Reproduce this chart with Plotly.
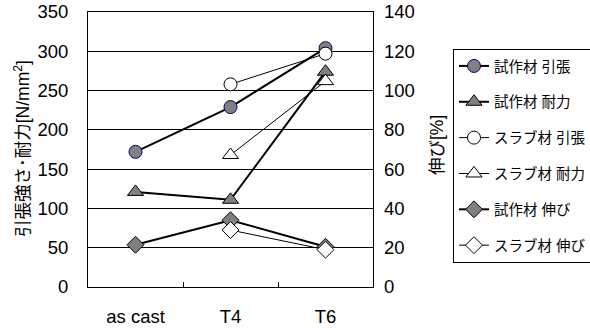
import plotly.graph_objects as go

categories = ["as cast", "T4", "T6"]
proto_tensile = [172, 229, 304]
proto_proof = [121, 111, 274]
slab_cats = ["T4", "T6"]
slab_tensile = [258, 297]
slab_proof = [168, 262]
proto_elong = [21.5, 34, 20.5]
slab_elong = [29, 19]

FONT = "Liberation Sans, Arial, Noto Sans CJK JP, sans-serif"
GRAY = "#808080"

fig = go.Figure()

def add(name, x, y, symbol, fill, outline, lw, size, axis="y"):
    fig.add_trace(go.Scatter(
        x=x, y=y, name=name, mode="lines+markers", yaxis=axis,
        line=dict(color="black", width=lw),
        marker=dict(symbol=symbol, color=fill, size=size,
                    line=dict(color=outline, width=1)),
        legendgroup=name, cliponaxis=False,
    ))

add("試作材 引張", categories, proto_tensile, "circle", GRAY, "#000080", 2, 13)
add("試作材 耐力", categories, proto_proof, "triangle-up", GRAY, "black", 2, 14)
add("スラブ材 引張", slab_cats, slab_tensile, "circle", "white", "black", 1, 13)
add("スラブ材 耐力", slab_cats, slab_proof, "triangle-up", "white", "black", 1, 14)
add("試作材 伸び", categories, proto_elong, "diamond", GRAY, "black", 2, 13, axis="y2")
add("スラブ材 伸び", slab_cats, slab_elong, "diamond", "white", "black", 1, 13, axis="y2")

fig.update_layout(
    width=590, height=333,
    margin=dict(l=88, r=217, t=12, b=46, autoexpand=False),
    paper_bgcolor="white", plot_bgcolor="white",
    font=dict(family=FONT, size=18, color="black"),
    showlegend=True,
    legend=dict(
        x=(453 - 88) / 285, y=(287 - 49) / 275, xanchor="left", yanchor="top",
        bordercolor="black", borderwidth=1, bgcolor="white",
        font=dict(family=FONT, size=14.5, color="black"),
        tracegroupgap=14, itemwidth=30,
    ),
    xaxis=dict(
        type="category", categoryorder="array", categoryarray=categories,
        range=[-0.5, 2.5], showline=True, linecolor="black", linewidth=1,
        mirror=True, ticks="inside", tickson="boundaries", ticklen=5,
        tickcolor="black", showgrid=False, ticklabelstandoff=13,
        tickfont=dict(size=18.5), automargin=False,
    ),
    yaxis=dict(
        range=[0, 350], dtick=50, showline=True, linecolor="black",
        linewidth=1, mirror=True, showgrid=True, gridcolor="black",
        gridwidth=1, ticks="", ticklabelstandoff=15, zeroline=False,
        tickfont=dict(size=18.5), automargin=False,
    ),
    yaxis2=dict(
        range=[0, 140], dtick=20, overlaying="y", side="right",
        showgrid=False, zeroline=False, ticks="", ticklabelstandoff=10,
        showline=False, tickfont=dict(size=18.5), automargin=False,
    ),
    annotations=[
        dict(text="引張強さ･耐力[N/mm<sup>2</sup>]", xref="paper", yref="paper",
             x=(22 - 88) / 285, y=(287 - 149) / 275, textangle=-90,
             showarrow=False, xanchor="center", yanchor="middle",
             font=dict(size=17.5)),
        dict(text="伸び[%]", xref="paper", yref="paper",
             x=(437 - 88) / 285, y=(287 - 145) / 275, textangle=-90,
             showarrow=False, xanchor="center", yanchor="middle",
             font=dict(size=17.5)),
    ],
)

fig.write_html("out.html")
